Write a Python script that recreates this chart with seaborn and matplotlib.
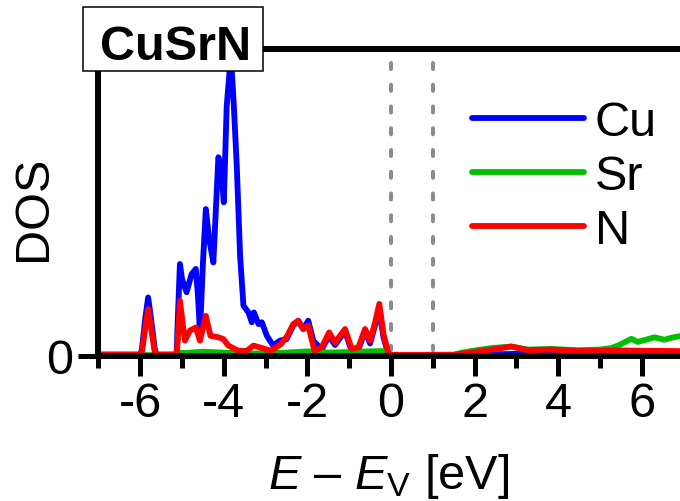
import numpy as np
import pandas as pd
import matplotlib
matplotlib.use("Agg")
import matplotlib.pyplot as plt
from matplotlib.patches import Rectangle
import seaborn as sns

# ---------------- data ----------------
elements = ["Cu", "Sr", "N"]
colors = ["#0000ff", "#00c000", "#ff0000"]

cu_E = [-7.0, -6.0, -5.96, -5.88, -5.81, -5.74, -5.65, -5.61, -5.13, -5.10, -5.05, -5.00,
        -4.89, -4.77, -4.67, -4.62, -4.57, -4.50, -4.43, -4.35, -4.25, -4.13, -4.07, -4.00,
        -3.93, -3.83, -3.76, -3.69, -3.61, -3.53, -3.41, -3.33, -3.28, -3.17, -3.09, -2.97,
        -2.82, -2.66, -2.50, -2.34, -2.22, -2.10, -1.98, -1.86, -1.66, -1.48, -1.34, -1.10,
        -0.94, -0.78, -0.62, -0.50, -0.38, -0.28, -0.18, -0.06, 0.0, 1.5, 3.0, 5.0, 6.91]
cu_D = [0.003, 0.003, 0.02, 0.12, 0.190, 0.12, 0.02, 0.003, 0.003, 0.12, 0.299, 0.25,
        0.207, 0.266, 0.283, 0.20, 0.076, 0.30, 0.478, 0.38, 0.304, 0.647, 0.625, 0.500,
        0.815, 0.98, 0.815, 0.620, 0.326, 0.163, 0.141, 0.109, 0.141, 0.103, 0.109, 0.065,
        0.033, 0.049, 0.054, 0.098, 0.114, 0.087, 0.114, 0.049, 0.02, 0.065, 0.035, 0.08,
        0.015, 0.02, 0.08, 0.04, 0.10, 0.15, 0.06, 0.003, 0.002, 0.002, 0.006, 0.005, 0.006]

sr_E = [-7.0, -5.15, -5.08, -4.9, -4.5, -4.0, -3.5, -3.0, -2.5, -2.0, -1.5, -1.0, -0.5,
        -0.2, -0.06, 0.0, 1.5, 1.7, 2.0, 2.41, 2.88, 3.27, 3.84, 4.47, 5.0, 5.27, 5.43,
        5.75, 5.9, 6.1, 6.3, 6.54, 6.7, 6.91]
sr_D = [0.002, 0.002, 0.010, 0.009, 0.013, 0.010, 0.007, 0.008, 0.010, 0.014, 0.010, 0.012,
        0.014, 0.015, 0.004, 0.002, 0.003, 0.010, 0.017, 0.025, 0.030, 0.020, 0.022, 0.018,
        0.020, 0.025, 0.033, 0.055, 0.045, 0.052, 0.06, 0.052, 0.058, 0.064]

n_E = [-7.0, -6.0, -5.96, -5.88, -5.81, -5.74, -5.65, -5.61, -5.13, -5.10, -5.05, -4.98,
       -4.93, -4.81, -4.67, -4.57, -4.43, -4.32, -4.13, -4.01, -3.89, -3.65, -3.45, -3.29,
       -3.14, -2.87, -2.63, -2.48, -2.34, -2.22, -2.10, -1.98, -1.83, -1.66, -1.48, -1.34,
       -1.10, -0.94, -0.78, -0.62, -0.50, -0.38, -0.28, -0.18, -0.06, 0.0, 1.5, 2.0, 2.41,
       2.88, 3.27, 3.84, 4.47, 5.5, 6.91]
n_D = [0.004, 0.004, 0.01, 0.09, 0.152, 0.09, 0.01, 0.004, 0.004, 0.05, 0.179, 0.10,
       0.049, 0.082, 0.092, 0.049, 0.130, 0.065, 0.060, 0.054, 0.033, 0.016, 0.016, 0.033,
       0.027, 0.016, 0.038, 0.065, 0.103, 0.114, 0.087, 0.098, 0.016, 0.027, 0.076, 0.043,
       0.087, 0.022, 0.027, 0.087, 0.049, 0.109, 0.169, 0.071, 0.005, 0.003, 0.003, 0.012,
       0.02, 0.03, 0.018, 0.02, 0.015, 0.017, 0.015]

band_edges = [0.0, 1.0]          # E_V and E_C (dashed markers)
x_major = [-6, -4, -2, 0, 2, 4, 6]
x_minor = [-7, -5, -3, -1, 1, 3, 5]
y_ticks = [0]
title = "CuSrN"

# ---------------- style ----------------
sns.set_style("white")
plt.rcParams["font.family"] = ["Liberation Sans", "DejaVu Sans"]
plt.rcParams["text.color"] = "black"
plt.rcParams["axes.labelcolor"] = "black"
plt.rcParams["xtick.color"] = "black"
plt.rcParams["ytick.color"] = "black"
plt.rcParams["axes.unicode_minus"] = False
plt.rcParams["mathtext.fontset"] = "custom"
plt.rcParams["mathtext.rm"] = "Liberation Sans"
plt.rcParams["mathtext.it"] = "Liberation Sans:italic"
plt.rcParams["mathtext.bf"] = "Liberation Sans:bold"

FS = 35
LW = 4.2
W, H = 680, 502
fig = plt.figure(figsize=(W / 100, H / 100), dpi=100)
ax_l, ax_b, ax_r, ax_t = 98.4, 356.7, 680.0, 50.0   # pixel edges
ax = fig.add_axes([ax_l / W, 1 - ax_b / H, (ax_r - ax_l) / W, (ax_b - ax_t) / H])

df = pd.concat([
    pd.DataFrame({"E": cu_E, "DOS": cu_D, "element": "Cu"}),
    pd.DataFrame({"E": sr_E, "DOS": sr_D, "element": "Sr"}),
    pd.DataFrame({"E": n_E, "DOS": n_D, "element": "N"}),
], ignore_index=True)

sns.lineplot(data=df, x="E", y="DOS", hue="element", hue_order=elements,
             palette=dict(zip(elements, colors)), estimator=None, sort=False,
             linewidth=LW, legend=False, ax=ax)
for ln in ax.get_lines():
    ln.set_solid_capstyle("round")
    ln.set_solid_joinstyle("round")

ax.vlines(band_edges, ymin=0.955, ymax=0.02, colors="#8c8c8c", linewidth=2.9,
          linestyles=[(0, (1.5, 3.9))], capstyle="round", zorder=1)

ax.set_xlim(-7, (ax_r - 391.0) / 41.8)
ax.set_ylim(0, 1)
ax.set_xticks(x_major)
ax.set_xticks(x_minor, minor=True)
ax.set_yticks(y_ticks)
ax.set_yticklabels(["0"])
ax.tick_params(axis="both", which="major", direction="out", length=14.4, width=3.6,
               labelsize=FS, color="black", labelcolor="black", pad=4, bottom=True, left=True)
ax.tick_params(axis="x", which="minor", direction="out", length=8.4, width=3.6,
               color="black", bottom=True)

for side in ["left", "bottom", "top"]:
    ax.spines[side].set_linewidth(4.3)
    ax.spines[side].set_color("black")
ax.spines["right"].set_visible(False)

ax.set_xlabel(r"$E$ – $E_{\mathrm{V}}$ [eV]", fontsize=FS, va="baseline", color="black")
ax.xaxis.set_label_coords(0.5, (ax_b - 489.5) / (ax_b - ax_t))
ax.set_ylabel("DOS", fontsize=FS, va="center", color="black")
ax.yaxis.set_label_coords((34 - ax_l) / (ax_r - ax_l), (ax_b - 208.5) / (ax_b - ax_t))

leg = ax.legend(ax.get_lines()[:3], elements, frameon=False, fontsize=FS,
                loc="upper left",
                bbox_to_anchor=((471.7 - ax_l) / (ax_r - ax_l), (ax_b - 101) / (ax_b - ax_t)),
                borderaxespad=0, borderpad=0, handlelength=2.31, handletextpad=0.22,
                labelspacing=0.19, labelcolor="black")
for h in leg.legend_handles:
    h.set_linewidth(LW)
    h.set_solid_capstyle("round")

# title box
box = Rectangle((83.3 / W, 1 - 71.7 / H), 180 / W, 63.4 / H, transform=fig.transFigure,
                facecolor="white", edgecolor="black", linewidth=1.1, zorder=10)
fig.add_artist(box)
fig.text(175.8 / W, 1 - 60 / H, title, fontsize=FS, fontweight="bold", ha="center",
         va="baseline", color="black", zorder=11)

fig.savefig("out.png", dpi=100)
